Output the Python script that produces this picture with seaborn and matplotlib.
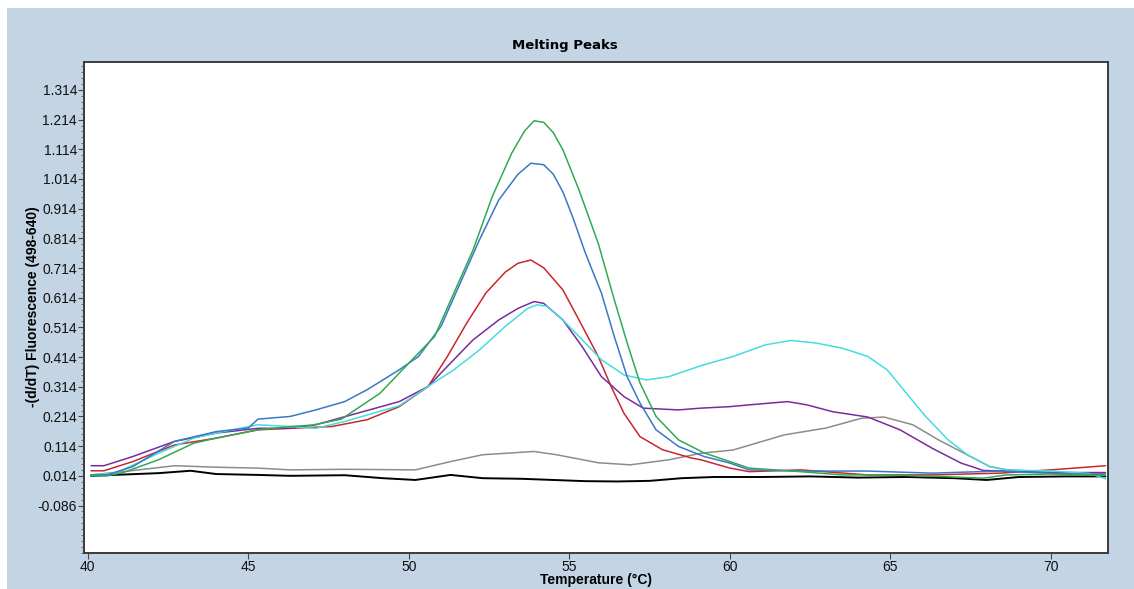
import numpy as np
import pandas as pd
import seaborn as sns
import matplotlib.pyplot as plt
from matplotlib.patches import Rectangle

# melting peak curves
green_t = [40.1, 40.6, 41.1, 42.2, 43.3, 44.0, 45.3, 46.3, 47.0, 47.9, 49.1, 50.1, 50.8, 51.4, 52.0, 52.6,
           53.2, 53.6, 53.9, 54.2, 54.5, 54.8, 55.3, 55.9, 56.4, 56.8, 57.2, 57.7, 58.4, 59.2, 60.0, 60.6,
           62.2, 63.5, 65.0, 66.5, 67.9, 68.6, 70.0, 71.7]
green_v = [0.014, 0.014, 0.025, 0.068, 0.124, 0.141, 0.169, 0.180, 0.185, 0.205, 0.292, 0.405, 0.483, 0.629,
           0.775, 0.955, 1.100, 1.175, 1.210, 1.205, 1.170, 1.112, 0.977, 0.797, 0.607, 0.462, 0.327, 0.214,
           0.135, 0.091, 0.062, 0.040, 0.028, 0.017, 0.017, 0.012, 0.006, 0.017, 0.020, 0.015]

blue_t = [40.1, 40.6, 41.4, 42.7, 44.0, 45.0, 45.3, 46.3, 47.1, 48.0, 48.7, 49.7, 50.3, 51.0, 51.6, 52.2,
          52.8, 53.4, 53.8, 54.2, 54.5, 54.8, 55.1, 55.5, 56.0, 56.4, 56.8, 57.2, 57.7, 58.4, 59.2, 60.0,
          60.6, 62.2, 64.3, 66.3, 68.4, 70.0, 71.7]
blue_v = [0.017, 0.017, 0.045, 0.130, 0.163, 0.175, 0.205, 0.214, 0.236, 0.264, 0.304, 0.371, 0.416, 0.517,
          0.663, 0.809, 0.943, 1.030, 1.067, 1.062, 1.030, 0.970, 0.887, 0.764, 0.629, 0.483, 0.348, 0.259,
          0.169, 0.113, 0.079, 0.057, 0.034, 0.030, 0.030, 0.023, 0.030, 0.023, 0.017]

red_t = [40.1, 40.5, 41.4, 42.7, 44.0, 45.3, 46.3, 47.6, 48.7, 49.7, 50.6, 51.2, 51.8, 52.4, 53.0, 53.4,
         53.8, 54.2, 54.8, 55.3, 55.9, 56.3, 56.7, 57.2, 57.9, 58.8, 59.1, 60.0, 60.6, 62.2, 64.3, 66.3,
         68.4, 70.0, 71.7]
red_v = [0.031, 0.031, 0.062, 0.118, 0.141, 0.169, 0.174, 0.180, 0.203, 0.247, 0.315, 0.416, 0.528, 0.630,
         0.700, 0.730, 0.741, 0.715, 0.640, 0.539, 0.416, 0.315, 0.225, 0.146, 0.102, 0.074, 0.068, 0.040,
         0.028, 0.034, 0.017, 0.017, 0.023, 0.034, 0.048]

purple_t = [40.1, 40.5, 41.4, 42.7, 44.0, 45.3, 46.3, 47.1, 48.2, 49.7, 50.6, 51.3, 52.0, 52.8, 53.4, 53.9,
            54.2, 54.8, 55.4, 56.0, 56.7, 57.3, 58.4, 59.1, 60.0, 60.6, 61.8, 62.4, 63.2, 64.3, 65.3, 66.3,
            67.2, 67.9, 68.6, 70.0, 71.7]
purple_v = [0.048, 0.048, 0.079, 0.130, 0.158, 0.174, 0.174, 0.186, 0.219, 0.264, 0.315, 0.394, 0.472, 0.539,
            0.578, 0.601, 0.595, 0.539, 0.449, 0.348, 0.281, 0.242, 0.236, 0.242, 0.247, 0.253, 0.264, 0.253,
            0.230, 0.212, 0.169, 0.107, 0.057, 0.032, 0.030, 0.025, 0.025]

cyan_t = [40.1, 40.9, 42.2, 43.3, 44.0, 45.3, 46.3, 47.1, 48.0, 49.7, 50.6, 51.4, 52.2, 53.0, 53.7, 54.0,
          54.3, 54.8, 55.4, 56.0, 56.7, 57.4, 58.1, 59.1, 60.1, 61.1, 61.9, 62.7, 63.5, 64.3, 64.9, 65.5,
          66.1, 66.8, 67.4, 68.1, 68.6, 70.0, 71.2, 71.7]
cyan_v = [0.017, 0.025, 0.090, 0.141, 0.158, 0.186, 0.180, 0.174, 0.197, 0.250, 0.315, 0.371, 0.438, 0.517,
          0.578, 0.590, 0.585, 0.539, 0.472, 0.405, 0.354, 0.337, 0.348, 0.385, 0.416, 0.455, 0.470, 0.461,
          0.444, 0.416, 0.371, 0.292, 0.214, 0.135, 0.085, 0.045, 0.034, 0.030, 0.022, 0.004]

gray_t = [40.1, 41.1, 42.7, 44.0, 45.3, 46.3, 48.0, 50.2, 51.3, 52.3, 53.9, 54.6, 55.9, 56.9, 58.1, 59.1,
          60.1, 61.7, 63.0, 64.1, 64.8, 65.7, 66.5, 67.3, 68.1, 68.6, 70.0, 71.7]
gray_v = [0.017, 0.028, 0.048, 0.043, 0.040, 0.034, 0.036, 0.034, 0.062, 0.085, 0.096, 0.085, 0.058, 0.051,
          0.068, 0.090, 0.101, 0.152, 0.175, 0.208, 0.212, 0.186, 0.135, 0.090, 0.045, 0.035, 0.025, 0.022]

black_t = [40.1, 42.2, 43.2, 44.0, 45.3, 46.3, 48.0, 49.2, 50.2, 51.3, 52.3, 53.5, 54.5, 55.5, 56.5, 57.5,
           58.5, 59.5, 61.0, 62.5, 64.0, 65.5, 67.0, 68.0, 69.0, 70.5, 71.7]
black_v = [0.014, 0.023, 0.031, 0.020, 0.017, 0.014, 0.016, 0.006, 0.000, 0.017, 0.006, 0.004, 0.000, -0.004,
           -0.005, -0.003, 0.006, 0.010, 0.010, 0.012, 0.008, 0.010, 0.006, 0.000, 0.010, 0.012, 0.012]

samples = ['black', 'gray', 'red', 'purple', 'cyan', 'blue', 'green']
series = {'black': (black_t, black_v), 'gray': (gray_t, gray_v), 'red': (red_t, red_v),
          'purple': (purple_t, purple_v), 'cyan': (cyan_t, cyan_v), 'blue': (blue_t, blue_v),
          'green': (green_t, green_v)}
colors = {'black': '#000000', 'gray': '#8c8c8c', 'red': '#c8282d', 'purple': '#7a2c9c',
          'cyan': '#45dcdf', 'blue': '#3a78c6', 'green': '#2faa55'}

y_ticks = [-0.086, 0.014, 0.114, 0.214, 0.314, 0.414, 0.514, 0.614, 0.714, 0.814, 0.914,
           1.014, 1.114, 1.214, 1.314]
x_ticks = [40, 45, 50, 55, 60, 65, 70]


def to_long(series):
    frames = []
    for name in samples:
        t, v = series[name]
        frames.append(pd.DataFrame({'Temperature': t, 'Value': v, 'Sample': name}))
    return pd.concat(frames, ignore_index=True)


def main():
    sns.set_style('ticks')
    plt.rcParams['font.family'] = ['Liberation Sans', 'DejaVu Sans']
    df = to_long(series)

    fig = plt.figure(figsize=(11.34, 5.89), dpi=100)
    fig.patch.set_facecolor('#c3d4e5')
    # thin white strips at the left and top of the screenshot
    fig.patches.append(Rectangle((0, 0), 7 / 1134, 1, transform=fig.transFigure,
                                 facecolor='white', edgecolor='none'))
    fig.patches.append(Rectangle((0, 1 - 8 / 589), 1, 8 / 589, transform=fig.transFigure,
                                 facecolor='white', edgecolor='none'))
    ax = fig.add_axes([84 / 1134, 36 / 589, 1024 / 1134, 491 / 589])
    ax.set_facecolor('white')

    sns.lineplot(data=df, x='Temperature', y='Value', hue='Sample', hue_order=samples,
                 palette=colors, estimator=None, sort=False, legend=False, linewidth=1.1, ax=ax)
    ax.lines[0].set_linewidth(1.4)

    ax.set_xlim(39.88, 71.78)
    ax.set_ylim(-0.245, 1.408)
    ax.set_xticks(x_ticks)
    ax.set_xticklabels([str(t) for t in x_ticks])
    ax.set_yticks(y_ticks)
    ax.set_yticklabels(['%.3f' % t for t in y_ticks])
    minor = [m for m in np.arange(-0.246, 1.41, 0.02) if min(abs(m - t) for t in y_ticks) > 0.005]
    ax.set_yticks(minor, minor=True)
    ax.tick_params(axis='both', which='major', length=4, width=0.8, color='#444444',
                   labelsize=10, labelcolor='#111111', pad=1)
    ax.tick_params(axis='y', which='minor', length=2, width=0.6, color='#666666')
    for s in ax.spines.values():
        s.set_color('#3a3a3a')
        s.set_linewidth(1.4)
    ax.set_xlabel('')
    ax.set_ylabel('')

    fig.text(565 / 1134, 1 - 45 / 589, 'Melting Peaks', ha='center', va='center', color='black',
             fontsize=9.5, fontweight='bold', family=['DejaVu Sans'])
    fig.text(596 / 1134, 1 - 580 / 589, 'Temperature (°C)', ha='center', va='center', color='black',
             fontsize=10, fontweight='bold')
    fig.text(33 / 1134, 1 - 307 / 589, '-(d/dT) Fluorescence (498-640)', ha='center', va='center',
             rotation=90, fontsize=10, fontweight='bold', color='black')

    fig.savefig('out.png', dpi=100, facecolor=fig.get_facecolor())


if __name__ == "__main__":
    main()
